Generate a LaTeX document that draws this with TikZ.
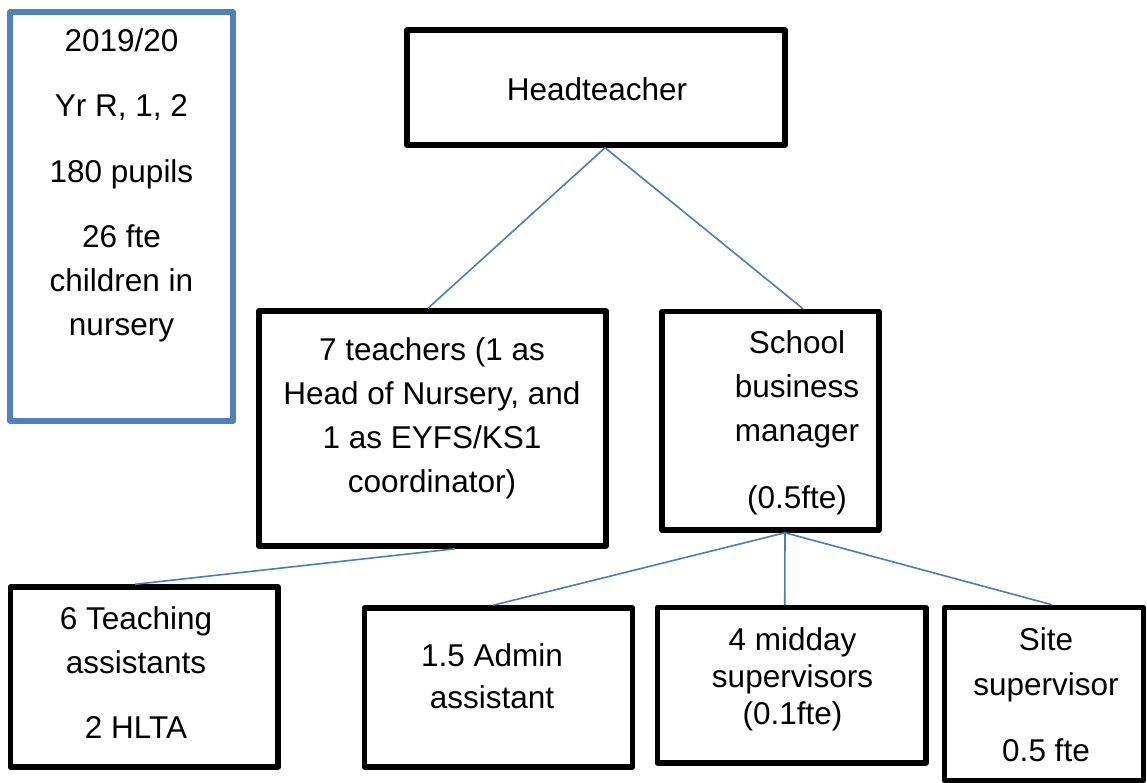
\documentclass[tikz,border=0pt]{standalone}
\usepackage{fontspec}
\setmainfont{Liberation Sans}
\definecolor{boxblue}{HTML}{4F81BD}
\definecolor{linkblue}{HTML}{4A7EBB}
\begin{document}
\begin{tikzpicture}[x=1pt,y=-1pt]
\tikzset{
  frame/.style={draw=black, line width=5.5pt, line join=round, inner sep=0pt},
  infoframe/.style={frame, draw=boxblue},
  % multi-line labels are placed by the baseline of their last line
  lbl/.style={font=\fontsize{31.5}{44}\selectfont, align=center, anchor=base, inner sep=0pt},
  link/.style={draw=linkblue, line width=1.6pt},
}
\useasboundingbox (0,0) rectangle (1147,783);

% school facts panel
\node[infoframe, minimum width=223pt, minimum height=409pt] (info) at (121.5,216.5) {};
\node[lbl] (infotext) at (121.5,335) {2019/20\\[21pt]Yr R, 1, 2\\[21pt]180 pupils\\[21pt]26 fte\\children in\\nursery};

% top level
\node[frame, minimum width=378pt, minimum height=115pt] (head) at (596,87.5) {};
\node[lbl] (headtext) at (597,101) {Headteacher};

% second level
\node[frame, minimum width=347pt, minimum height=235pt] (teach) at (432.5,428.5) {};
\node[lbl] (teachtext) at (432,492) {7 teachers (1 as\\Head of Nursery, and\\1 as EYFS/KS1\\coordinator)};

\node[frame, minimum width=217pt, minimum height=218.5pt] (sbm) at (770.5,420.75) {};
\node[lbl] (sbmtext) at (797,508) {School\\business\\manager\\[23pt](0.5fte)};

% third level
\node[frame, minimum width=267.5pt, minimum height=180pt] (ta) at (144.25,677) {};
\node[lbl] (tatext) at (136,738) {6 Teaching\\assistants\\[21pt]2 HLTA};

\node[frame, minimum width=268pt, minimum height=159pt] (admin) at (498.5,687.5) {};
\node[lbl] (admintext) at (492,708) {1.5 Admin\\[-2pt]assistant};

\node[frame, minimum width=268.5pt, minimum height=155.5pt] (midday) at (791.75,685.25) {};
\node[lbl] (middaytext) at (792.5,724) {4 midday\\[-7pt]supervisors\\[-7pt](0.1fte)};

\node[frame, minimum width=199pt, minimum height=173pt] (site) at (1044,694) {};
\node[lbl] (sitetext) at (1046,761) {Site\\[1pt]supervisor\\[22pt]0.5 fte};

% reporting lines
\draw[link] ([xshift=9pt]head.south) -- ([xshift=-4.5pt]teach.north);
\draw[link] ([xshift=9pt]head.south) -- ([xshift=32.5pt]sbm.north);
\draw[link] ([xshift=22.5pt]teach.south) -- ([xshift=-9pt]ta.north);
\draw[link] ([xshift=14.5pt]sbm.south) -- ([xshift=-5.5pt]admin.north);
\draw[link] ([xshift=14.5pt]sbm.south) -- ([xshift=-7pt]midday.north);
\draw[link] ([xshift=14.5pt]sbm.south) -- ([xshift=8pt]site.north);
\end{tikzpicture}
\end{document}
